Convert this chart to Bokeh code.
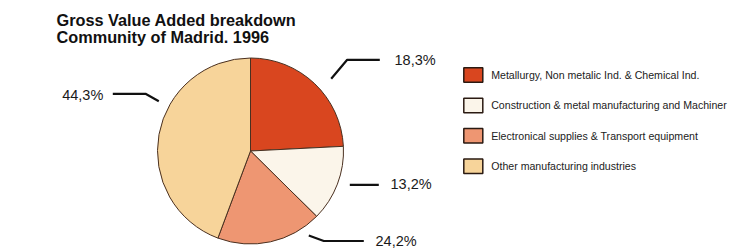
import math
from bokeh.plotting import figure
from bokeh.models import Range1d, ColumnDataSource
from bokeh.core.properties import value
from bokeh.embed import file_html
from bokeh.resources import INLINE

# ---- data ----
title_lines = ["Gross Value Added breakdown", "Community of Madrid. 1996"]
categories = [
    "Metallurgy, Non metalic Ind. & Chemical Ind.",
    "Construction & metal manufacturing and Machiner",
    "Electronical supplies & Transport equipment",
    "Other manufacturing industries",
]
# wedge sizes as drawn in the picture (%)
shares = [24.2, 13.2, 18.3, 44.3]
# percentage labels as printed in the picture
pct_labels = ["18,3%", "13,2%", "24,2%", "44,3%"]
colors = ["#D9461F", "#FBF5EA", "#EE9672", "#F7D49A"]

# ---- layout (screen-like coords: x right, y up; 250 - screen_y) ----
W, H = 730, 250
def Y(s):
    return H - s

CX, CY, R = 250, Y(150.5), 93

p = figure(width=W, height=H, output_backend="svg", toolbar_location=None,
           x_range=Range1d(0, W), y_range=Range1d(0, H),
           min_border=0, background_fill_color="white", border_fill_color="white")
p.axis.visible = False
p.grid.visible = False
p.outline_line_color = None

total = sum(shares)
starts, ends, acc = [], [], 0.0
for s in shares:
    starts.append(math.pi / 2 - 2 * math.pi * acc / total)
    acc += s
    ends.append(math.pi / 2 - 2 * math.pi * acc / total)

src = ColumnDataSource(dict(start=starts, end=ends, color=colors, cat=categories))
p.wedge(x=CX, y=CY, radius=R, start_angle="start", end_angle="end", direction="clock",
        fill_color="color", line_color="#4a3020", line_width=1, source=src)

# title
p.text(x=[56, 56], y=[Y(19.5), Y(36.5)], text=title_lines,
       text_font=value("Liberation Sans"), text_font_style="bold",
       text_font_size="16.3px", text_color="#111111", text_baseline="alphabetic")

# leader lines (screen coords) and percentage labels
leaders = [
    ([330.7, 346.7, 379.3], [78.3, 59.3, 59.3], 394, 59.5),
    ([349.3, 378.3], [184.3, 184.3], 390, 183.8),
    ([308.3, 323.3, 363.3], [235.0, 240.5, 240.5], 375, 240.5),
    ([112.3, 145.0, 158.3], [93.3, 93.3, 100.7], 61.7, 94.0),
]
for (xs, ys, tx, ty), lab in zip(leaders, pct_labels):
    p.line(x=xs, y=[Y(v) for v in ys], line_color="#111111", line_width=2.2)
    p.text(x=[tx], y=[Y(ty)], text=[lab], text_font=value("Liberation Sans"),
           text_font_size="14.5px", text_color="#1a1a1a", text_baseline="middle",
           text_align="left")

# legend
leg_y = [Y(74.5 + i * 30.4) for i in range(len(categories))]
leg = ColumnDataSource(dict(x=[472.8] * 4, tx=[490.7] * 4, y=leg_y, color=colors, cat=categories))
p.rect(x="x", y="y", width=19, height=14.5, fill_color="color", line_color="#2a1a12",
       line_width=1.5, source=leg)
p.text(x="tx", y="y", text="cat", text_font=value("Liberation Sans"),
       text_font_size="10.6px", text_color="#222222", text_baseline="middle",
       text_align="left", source=leg)

open("out.html", "w").write(file_html(p, INLINE))
